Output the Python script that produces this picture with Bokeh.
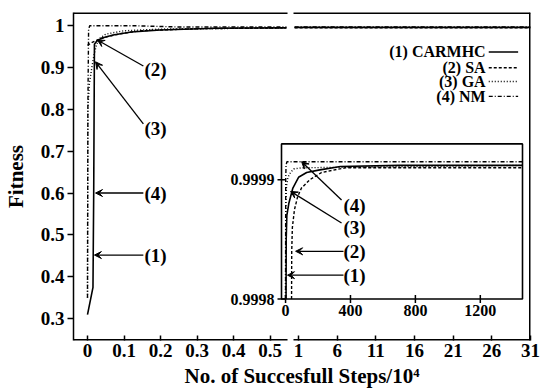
import numpy as np
from bokeh.plotting import figure
from bokeh.models import Range1d, FixedTicker, Arrow, VeeHead
from bokeh.embed import file_html
from bokeh.resources import INLINE
from bokeh.core.properties import value

# ---------------- data ----------------
legend_labels = ["(1) CARMHC", "(2) SA", "(3) GA", "(4) NM"]

# main plot, left part (x in units of 10^4 successful steps)
carmhc_lx = [0, 0.015, 0.017, 0.019, 0.025, 0.04, 0.07, 0.12, 0.2, 0.35, 0.545]
carmhc_ly = [0.31, 0.375, 0.6, 0.955, 0.962, 0.97, 0.977, 0.984, 0.989, 0.993, 0.994]
sa_lx = [0, 0.01, 0.027, 0.05, 0.09, 0.145, 0.3, 0.545]
sa_ly = [0.952, 0.958, 0.965, 0.972, 0.98, 0.987, 0.992, 0.994]
ga_lx = [0, 0.001, 0.005, 0.012, 0.018, 0.025, 0.035, 0.05, 0.1, 0.2, 0.545]
ga_ly = [0.35, 0.8, 0.86, 0.9, 0.93, 0.955, 0.97, 0.979, 0.987, 0.991, 0.994]
nm_lx = [0, 0.001, 0.003, 0.006, 0.13, 0.25, 0.545]
nm_ly = [0.35, 0.8, 0.99, 0.999, 0.999, 0.996, 0.996]

# main plot, right part (after the axis break)
right_x = [0.5, 1, 6, 11, 16, 21, 26, 31]
carmhc_ry = [0.995, 0.995, 0.995, 0.995, 0.995, 0.995, 0.995, 0.995]
sa_ry = [0.994, 0.994, 0.994, 0.994, 0.994, 0.994, 0.994, 0.994]
ga_ry = [0.995, 0.995, 0.995, 0.995, 0.995, 0.995, 0.995, 0.995]
nm_ry = [0.996, 0.996, 0.996, 0.996, 0.996, 0.996, 0.996, 0.996]

# inset (x in successful steps)
carmhc_ix = [3, 4, 8, 20, 45, 80, 130, 203, 338, 700, 1460]
carmhc_iy = [0.9998, 0.99985, 0.99987, 0.99988, 0.999893, 0.999902, 0.999906, 0.999908, 0.999911, 0.999912, 0.999912]
sa_ix = [37, 38, 42, 55, 75, 98, 150, 221, 369, 700, 1460]
sa_iy = [0.9998, 0.99984, 0.99986, 0.999875, 0.999886, 0.999893, 0.9999, 0.999906, 0.99991, 0.99991, 0.99991]
ga_ix = [0, 2, 6, 15, 30, 50, 100, 1460]
ga_iy = [0.9998, 0.99988, 0.999895, 0.999902, 0.999906, 0.999909, 0.99991, 0.999912]
nm_ix = [0, 1, 3, 8, 1460]
nm_iy = [0.9998, 0.9999, 0.999912, 0.999915, 0.999915]

# ticks
x_ticks_left = [0, 0.1, 0.2, 0.3, 0.4, 0.5]
x_labels_left = ["0", "0.1", "0.2", "0.3", "0.4", "0.5"]
x_ticks_right = [1, 6, 11, 16, 21, 26, 31]
y_ticks = [0.3, 0.4, 0.5, 0.6, 0.7, 0.8, 0.9, 1.0]
y_labels = ["0.3", "0.4", "0.5", "0.6", "0.7", "0.8", "0.9", "1"]
inset_x_ticks = [0, 400, 800, 1200]
inset_y_ticks = [0.9998, 0.9999]
inset_y_labels = ["0.9998", "0.9999"]

# ---------------- layout ----------------
W, H = 542, 390
FL, FR, FT, FB = 73, 530, 12, 344          # frame in px
LS = -0.03836; LE = LS + (FR - FL) / 365.0   # left-part scale
RS = 1 - 225 / 7.7333; RE = 31.0             # right-part scale
LEFT_END = 0.548; RIGHT_START = 0.353        # axis break
Y_LO, Y_HI = 0.2482, 1.0306
# inset box (px) and its data extent
IPL, IPR, IPT, IPB = 281, 522, 145, 302
IX0, IX1, IY0, IY1 = -25, 1460, 0.9998, 0.99993
sx = (IX1 - IX0) / (IPR - IPL)
sy = (IY1 - IY0) / (IPB - IPT)
ix_start, ix_end = IX0 - (IPL - FL) * sx, IX1 + (FR - IPR) * sx
iy_start, iy_end = IY0 - (FB - IPB) * sy, IY1 + (IPT - FT) * sy

FONT = value("Liberation Serif")

p = figure(width=W, height=H, output_backend="svg", toolbar_location=None,
           x_range=Range1d(LS, LE), y_range=Range1d(Y_LO, Y_HI),
           min_border_left=FL, min_border_right=W - FR, min_border_top=FT,
           min_border_bottom=H - FB)
p.extra_x_ranges = {"right": Range1d(RS, RE), "ix": Range1d(ix_start, ix_end)}
p.extra_y_ranges = {"iy": Range1d(iy_start, iy_end)}
p.outline_line_color = None
p.grid.visible = False
p.background_fill_color = "white"
p.border_fill_color = "white"

def r2l(v):
    return LS + (v - RS) * (LE - LS) / (RE - RS)

xt = list(x_ticks_left) + [r2l(v) for v in x_ticks_right]
xl = list(x_labels_left) + [str(v) for v in x_ticks_right]
p.xaxis.ticker = FixedTicker(ticks=xt)
p.xaxis.major_label_overrides = {t: l for t, l in zip(xt, xl)}
p.xaxis.axis_line_color = None
p.xaxis.major_tick_in = 5
p.xaxis.major_tick_out = 0
p.xaxis.major_tick_line_width = 1.5
p.xaxis.minor_tick_line_color = None
p.xaxis.major_label_standoff = 3
p.xaxis.axis_label = "No. of Succesfull Steps/10\u2074"
p.xaxis.axis_label_standoff = 4

p.yaxis.ticker = FixedTicker(ticks=y_ticks)
p.yaxis.major_label_overrides = {t: l for t, l in zip(y_ticks, y_labels)}
p.yaxis.axis_line_width = 1.5
p.yaxis.major_tick_in = 0
p.yaxis.major_tick_out = 6
p.yaxis.major_tick_line_width = 1.5
p.yaxis.minor_tick_line_color = None
p.yaxis.major_label_standoff = 3
p.yaxis.axis_label = "Fitness"
p.yaxis.axis_label_standoff = 10

for ax in (p.xaxis, p.yaxis):
    ax.major_label_text_font = "Liberation Serif"
    ax.major_label_text_font_style = "bold"
    ax.major_label_text_font_size = "19px"
    ax.major_label_text_color = "black"
    ax.axis_label_text_font = "Liberation Serif"
    ax.axis_label_text_font_style = "bold"
    ax.axis_label_text_font_size = "21px"
    ax.axis_label_text_color = "black"

# frame borders with the break
p.line([LS, LEFT_END], [Y_HI, Y_HI], line_color="black", line_width=3)
p.line([LS, LEFT_END], [Y_LO, Y_LO], line_color="black", line_width=3)
p.line([RIGHT_START, RE], [Y_HI, Y_HI], line_color="black", line_width=3, x_range_name="right")
p.line([RIGHT_START, RE], [Y_LO, Y_LO], line_color="black", line_width=3, x_range_name="right")
p.line([RE, RE], [Y_LO, Y_HI], line_color="black", line_width=3, x_range_name="right")

styles = [dict(line_dash="solid", line_width=1.6),
          dict(line_dash="3 2", line_width=1.4),
          dict(line_dash="1 2", line_width=1.4),
          dict(line_dash="4 2 1 2", line_width=1.4)]
left_series = [(carmhc_lx, carmhc_ly), (sa_lx, sa_ly), (ga_lx, ga_ly), (nm_lx, nm_ly)]
right_series = [carmhc_ry, sa_ry, ga_ry, nm_ry]
inset_series = [(carmhc_ix, carmhc_iy), (sa_ix, sa_iy), (ga_ix, ga_iy), (nm_ix, nm_iy)]

for (lx, ly), ry, st in zip(left_series, right_series, styles):
    p.line(lx, ly, line_color="black", **st)
    p.line(right_x, ry, line_color="black", x_range_name="right", **st)

# legend (label then sample line)
LEG_TX = 25.2; LEG_L0, LEG_L1 = 25.6, 29.4
LEG_Y = [0.9365, 0.8988, 0.8659, 0.8306]
p.text(x=[LEG_TX] * 4, y=LEG_Y, text=legend_labels, x_range_name="right",
       text_font=FONT, text_font_style="bold", text_font_size="16px",
       text_align="right", text_baseline="middle", text_color="black")
for yy, st in zip(LEG_Y, styles):
    p.line([LEG_L0, LEG_L1], [yy, yy], line_color="black", x_range_name="right", **st)

# main annotations
main_lab = ["(2)", "(3)", "(4)", "(1)"]
main_lab_x = [0.156] * 4
main_lab_y = [0.894, 0.753, 0.6, 0.452]
main_arrow_start = [(0.153, 0.903), (0.153, 0.765), (0.153, 0.6), (0.153, 0.452)]
main_arrow_end = [(0.027, 0.965), (0.022, 0.913), (0.022, 0.6), (0.019, 0.452)]
p.text(x=main_lab_x, y=main_lab_y, text=main_lab, text_font=FONT, text_font_style="bold",
       text_font_size="19px", text_align="left", text_baseline="middle", text_color="black")
for (x0, y0), (x1, y1) in zip(main_arrow_start, main_arrow_end):
    p.add_layout(Arrow(x_start=x0, y_start=y0, x_end=x1, y_end=y1, line_width=1.3,
                       end=VeeHead(size=7, fill_color="black", line_color="black")))

# inset
p.quad(left=[IX0], right=[IX1], bottom=[IY0], top=[IY1], fill_color="white",
       line_color="black", line_width=1.6, x_range_name="ix", y_range_name="iy")
for (ix, iy), st in zip(inset_series, styles):
    p.line(ix, iy, line_color="black", x_range_name="ix", y_range_name="iy", **st)
p.scatter(x=[IX0] * len(inset_y_ticks), y=inset_y_ticks, marker="dash", size=8,
          line_color="black", line_width=1.5, x_range_name="ix", y_range_name="iy")
p.scatter(x=inset_x_ticks, y=[IY0] * len(inset_x_ticks), marker="dash", size=8, angle=np.pi / 2,
          line_color="black", line_width=1.5, x_range_name="ix", y_range_name="iy")
p.text(x=[IX0] * len(inset_y_ticks), y=inset_y_ticks, text=inset_y_labels, x_offset=-7,
       x_range_name="ix", y_range_name="iy", text_font=FONT, text_font_style="bold",
       text_font_size="16px", text_align="right", text_baseline="middle", text_color="black")
p.text(x=inset_x_ticks, y=[IY0] * len(inset_x_ticks), text=[str(v) for v in inset_x_ticks],
       y_offset=6, x_range_name="ix", y_range_name="iy", text_font=FONT,
       text_font_style="bold", text_font_size="16px", text_align="center",
       text_baseline="top", text_color="black")

inset_lab = ["(4)", "(3)", "(2)", "(1)"]
inset_lab_x = [357] * 4
inset_lab_y = [0.9998786, 0.9998596, 0.9998397, 0.9998198]
inset_arrow_start = [(345, 0.999883), (345, 0.9998637), (357, 0.99984), (357, 0.99982)]
inset_arrow_end = [(99, 0.9999151), (31, 0.9998902), (62, 0.99984), (12, 0.99982)]
p.text(x=inset_lab_x, y=inset_lab_y, text=inset_lab, x_range_name="ix", y_range_name="iy",
       text_font=FONT, text_font_style="bold", text_font_size="19px",
       text_align="left", text_baseline="middle", text_color="black")
for (x0, y0), (x1, y1) in zip(inset_arrow_start, inset_arrow_end):
    p.add_layout(Arrow(x_start=x0, y_start=y0, x_end=x1, y_end=y1, line_width=1.3,
                       x_range_name="ix", y_range_name="iy",
                       end=VeeHead(size=7, fill_color="black", line_color="black")))

open("out.html", "w").write(file_html(p, INLINE))
